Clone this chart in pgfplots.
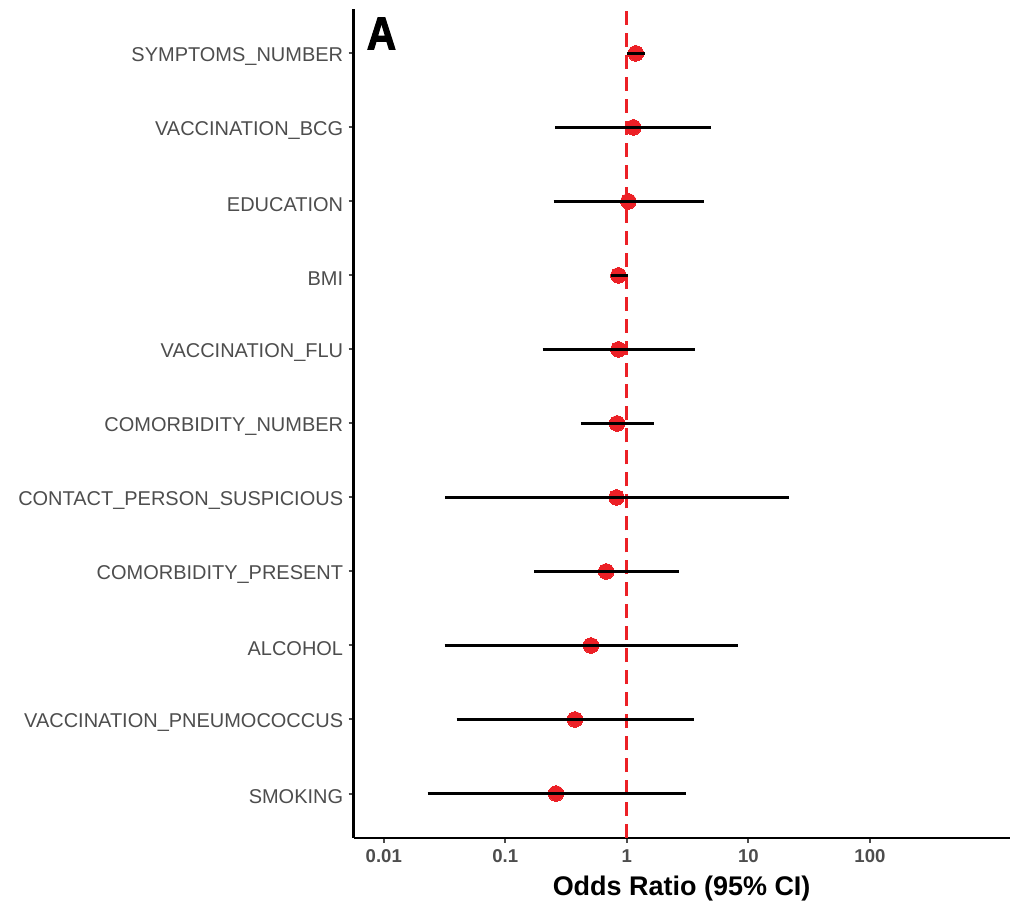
\documentclass[border=0pt]{standalone}
\usepackage{pgfplots}
\pgfplotsset{compat=1.18}
\usepackage{fontspec}
\setmainfont{Liberation Sans}
\definecolor{ptred}{RGB}{236,32,38}
\definecolor{lblgray}{RGB}{77,77,77}
\begin{document}
\begin{tikzpicture}
\begin{axis}[
 scale only axis, width=328.5pt, height=415pt,
 xmode=log, xmin=0.00564, xmax=1412, ymin=0.4, ymax=11.6,
 axis x line=bottom, axis y line=left,
 axis line style={-, line width=1.3pt, black},
 xtick={0.01,0.1,1,10,100}, xticklabels={0.01,0.1,1,10,100},
 xminorticks=false, yminorticks=false,
 ytick={1,2,3,4,5,6,7,8,9,10,11},
 yticklabels={SMOKING, VACCINATION\_PNEUMOCOCCUS, ALCOHOL, COMORBIDITY\_PRESENT, CONTACT\_PERSON\_SUSPICIOUS, COMORBIDITY\_NUMBER, VACCINATION\_FLU, BMI, EDUCATION, VACCINATION\_BCG, SYMPTOMS\_NUMBER},
 tick align=outside, major tick length=2.5pt, tick style={lblgray, line width=1pt},
 yticklabel style={font=\fontsize{10}{12}\selectfont, text=lblgray, yshift=-1.5pt, xshift=0.8pt},
 xticklabel style={font=\fontsize{9.3}{11}\selectfont\bfseries, text=lblgray},
 xlabel={Odds Ratio (95\% CI)},
 xlabel style={font=\fontsize{13.5}{16}\selectfont\bfseries, yshift=0.5pt},
 clip=false, clip marker paths=true,
]
\addplot[ptred, line width=1.45pt, dash pattern=on 7pt off 4pt] coordinates {(1,0.4) (1,11.6)};
\addplot[only marks, ptred, mark=*, mark size=3.9pt, mark options={fill=ptred, draw=ptred, line width=0pt}] coordinates {
(1.185,11) (1.13,10) (1.03,9) (0.853,8) (0.853,7) (0.832,6) (0.822,5) (0.676,4) (0.506,3) (0.374,2) (0.261,1)};
\addplot[black, line width=1.6pt] coordinates {(1.01,11) (1.40,11)};
\addplot[black, line width=1.6pt] coordinates {(0.258,10) (4.93,10)};
\addplot[black, line width=1.6pt] coordinates {(0.25,9) (4.33,9)};
\addplot[black, line width=1.6pt] coordinates {(0.747,8) (1.02,8)};
\addplot[black, line width=1.6pt] coordinates {(0.203,7) (3.66,7)};
\addplot[black, line width=1.6pt] coordinates {(0.419,6) (1.68,6)};
\addplot[black, line width=1.6pt] coordinates {(0.0321,5) (21.4,5)};
\addplot[black, line width=1.6pt] coordinates {(0.173,4) (2.71,4)};
\addplot[black, line width=1.6pt] coordinates {(0.0317,3) (8.21,3)};
\addplot[black, line width=1.6pt] coordinates {(0.0398,2) (3.59,2)};
\addplot[black, line width=1.6pt] coordinates {(0.0229,1) (3.04,1)};
\node[anchor=base west, inner sep=0pt, font=\fontsize{23}{26}\selectfont\bfseries\addfontfeature{FakeBold=2.5}, xscale=0.88] at (rel axis cs:0.0198,0.9514) {A};
\coordinate (ll) at (rel axis cs:0,0);
\coordinate (ur) at (rel axis cs:1,1);
\end{axis}
\path ([shift={(-177pt,-32pt)}]ll) rectangle ([shift={(0pt,4.5pt)}]ur);
\end{tikzpicture}
\end{document}
